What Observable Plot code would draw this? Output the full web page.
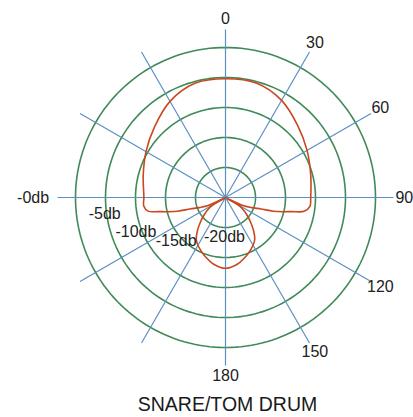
<!DOCTYPE html>
<html>
<head>
<meta charset="utf-8">
<script src="https://cdn.jsdelivr.net/npm/d3@7"></script>
<script src="https://cdn.jsdelivr.net/npm/@observablehq/plot@0.6"></script>
<style>
  html, body { margin: 0; padding: 0; background: #fff; overflow: hidden; }
  #title { width: 413px; box-sizing: border-box; padding-left: 42px; text-align: center;
           font-family: "Liberation Sans", Arial, sans-serif; font-size: 19.5px; color: #1a1a1a;
           margin-top: 0px; }
</style>
</head>
<body>
<div id="chart"></div>
<div id="title"></div>
<script>
// ---- data ----
const chartTitle = "SNARE/TOM DRUM";
const angleTicks = [0, 30, 60, 90, 120, 150, 180];
const spokeAngles = [0, 30, 60, 90, 120, 150, 180, 210, 240, 270, 300, 330];
const ringDb = [0, -5, -10, -15, -20];
const ringLabels = ["-0db", "-5db", "-10db", "-15db", "-20db"];
// polar pattern (degrees clockwise from 0 = front) in dB
const patternAngle = [0, 15, 30, 45, 60, 75, 90, 96, 100, 102, 104, 106, 108, 111, 115, 118,
  121, 125, 130, 135, 140, 145, 150, 155, 160, 170, 180,
  190, 200, 205, 210, 215, 220, 225, 230, 235, 239, 242,
  245, 249, 252, 254, 256, 258, 260, 264, 270, 285, 300, 315, 330, 345];
const patternDb = [-5.2, -5.25, -6.3, -8.0, -9.3, -10.3, -10.8, -10.85, -11.7, -13.7, -15.2, -16.7, -18.8, -20.3, -21.8, -25,
  -22.5, -21.3, -20.2, -19.0, -17.7, -16.5, -15.8, -15.25, -14.7, -13.7, -13.2,
  -13.7, -14.7, -15.25, -15.8, -16.5, -17.7, -19.0, -20.2, -21.3, -22.5, -25,
  -21.8, -20.3, -18.8, -16.7, -15.2, -13.7, -11.9, -11.3, -11.4, -10.8, -9.7, -8.3, -6.5, -5.3];

// ---- geometry ----
const DB_MIN = -25;          // centre of the plot
const SPOKE = 28;            // spoke length (radius units)
const TICK_R = 29.8;         // angle label radius
const W = 413, H = 393, CX = 225, CY = 197, UNIT = 6;
const R = db => Math.max(0, db - DB_MIN);
const px = (a, r) => r * Math.sin(a * Math.PI / 180);
const py = (a, r) => r * Math.cos(a * Math.PI / 180);

const ringPts = ringDb.flatMap(db => d3.range(0, 361, 2).map(a => ({db, a})));
const pattern = patternAngle.map((a, i) => ({a, db: patternDb[i]}));
// label placement: [angle, radius] for the ring labels (first one anchored at end)
const ringLabelPlace = [[270, 29.4], [262.5, 20.3], [249, 16], [229, 10.9], [181.5, 6.5]];
const ringLab = ringLabels.map((t, i) => ({t, a: ringLabelPlace[i][0], r: ringLabelPlace[i][1], end: i === 0}));

const font = "'Liberation Sans', Arial, Helvetica, sans-serif";
const plot = Plot.plot({
  width: W, height: H, margin: 0,
  x: {domain: [-CX / UNIT, (W - CX) / UNIT], range: [0, W], axis: null},
  y: {domain: [-(H - CY) / UNIT, CY / UNIT], range: [H, 0], axis: null},
  style: {fontFamily: font, background: "#fff", overflow: "visible"},
  marks: [
    Plot.line(ringPts, {x: d => px(d.a, R(d.db)), y: d => py(d.a, R(d.db)), z: "db",
      stroke: "#3f8a58", strokeWidth: 1.6}),
    Plot.link(spokeAngles, {x1: () => 0, y1: () => 0, x2: a => px(a, SPOKE), y2: a => py(a, SPOKE),
      stroke: "#5b8fc2", strokeWidth: 1.2}),
    Plot.line(pattern, {x: d => px(d.a, R(d.db)), y: d => py(d.a, R(d.db)),
      curve: "catmull-rom-closed", stroke: "#c8481f", strokeWidth: 1.6}),
    Plot.text(angleTicks, {x: a => px(a, TICK_R), y: a => py(a, TICK_R), text: a => String(a),
      fontSize: 16, fill: "#222"}),
    Plot.text(ringLab.filter(d => d.end), {x: d => px(d.a, d.r), y: d => py(d.a, d.r), text: "t",
      textAnchor: "end", fontSize: 16, fill: "#222"}),
    Plot.text(ringLab.filter(d => !d.end), {x: d => px(d.a, d.r), y: d => py(d.a, d.r), text: "t",
      fontSize: 16, fill: "#222"})
  ]
});
document.getElementById("chart").appendChild(plot);
document.getElementById("title").textContent = chartTitle;
</script>
</body>
</html>
